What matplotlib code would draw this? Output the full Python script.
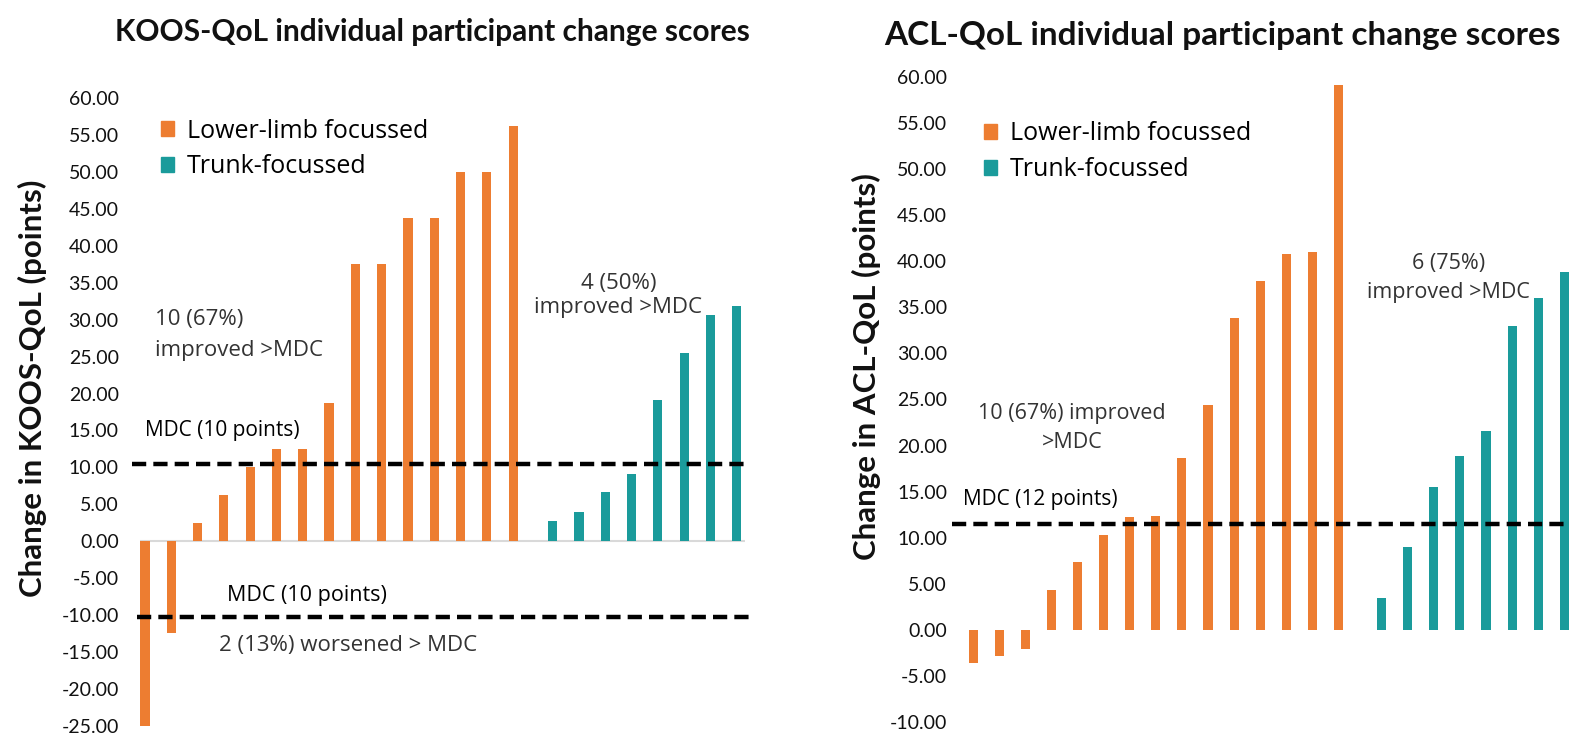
import numpy as np
import matplotlib
matplotlib.use("Agg")
import matplotlib.pyplot as plt
from matplotlib.patches import Patch

# KOOS-QoL change scores (points)
koos_lower = [-25.0, -12.5, 2.5, 6.25, 10.0, 12.5, 12.5, 18.75, 37.5, 37.5,
              43.75, 43.75, 50.0, 50.0, 56.25]
koos_trunk = [2.7, 3.9, 6.6, 9.1, 19.1, 25.5, 30.6, 31.8]
koos_mdc = 10.4
koos_mdc_neg = -10.3

# ACL-QoL change scores (points)
acl_lower = [-3.6, -2.9, -2.1, 4.3, 7.4, 10.3, 12.2, 12.3, 18.7, 24.4,
             33.8, 37.9, 40.8, 41.0, 59.1]
acl_trunk = [3.4, 9.0, 15.5, 18.9, 21.6, 33.0, 36.0, 38.9]
acl_mdc = 11.5

koos_ticks = np.arange(-25, 61, 5)
acl_ticks = np.arange(-10, 61, 5)

ORANGE = "#ED7D31"
TEAL = "#1A9B9B"
TEXT_GREY = "#333333"
W, H = 1570, 738

fig = plt.figure(figsize=(W / 100, H / 100), dpi=100)


def px_axes(left, top, right, bottom):
    return fig.add_axes([left / W, 1 - bottom / H, (right - left) / W, (bottom - top) / H])


def draw_bars(ax, lower, trunk, gap=15.6):
    x_low = np.arange(len(lower))
    x_trunk = gap + np.arange(len(trunk))
    ax.bar(x_low, lower, width=0.35, color=ORANGE, zorder=3)
    ax.bar(x_trunk, trunk, width=0.35, color=TEAL, zorder=3)
    for s in ax.spines.values():
        s.set_visible(False)
    ax.set_xticks([])
    ax.tick_params(axis="y", length=0, pad=0)
    ax.set_xlim(-1, 23.5)


handles = [Patch(color=ORANGE, label="Lower-limb focussed"),
           Patch(color=TEAL, label="Trunk-focussed")]
legend_kw = dict(loc="upper left", bbox_transform=fig.transFigure, frameon=False,
                 handlelength=0.55, handleheight=0.55, handletextpad=0.5,
                 labelspacing=0.42, prop={"family": "Open Sans", "size": 18})

# ---- left: KOOS-QoL
ax1 = px_axes(118.7, 91, 763, 733)
draw_bars(ax1, koos_lower, koos_trunk, gap=15.5)
ax1.set_ylim(-26, 61)
ax1.set_yticks(koos_ticks)
ax1.set_yticklabels([f"{v:.2f}" for v in koos_ticks], fontsize=14, family="Lato", color="#111111")
ax1.hlines(0, -0.2, 22.8, color="#D9D9D9", lw=1.5, zorder=2)
ax1.hlines(koos_mdc, -0.5, 22.9, color="black", lw=3.2, ls=(0, (3.2, 1.6)), zorder=4)
ax1.hlines(koos_mdc_neg, -0.3, 23.1, color="black", lw=3.2, ls=(0, (3.2, 1.6)), zorder=4)

ax1.text(0.38, 27.9, "10 (67%)\nimproved >MDC", fontsize=16, family="Open Sans",
         color=TEXT_GREY, va="center", ha="left", linespacing=1.6)
ax1.text(0.0, 15.0, "MDC (10 points)", fontsize=15, family="Open Sans", color="black",
         va="center", ha="left")
ax1.text(3.1, -7.3, "MDC (10 points)", fontsize=15.5, family="Open Sans", color="black",
         va="center", ha="left")
ax1.text(2.8, -14.1, "2 (13%) worsened > MDC", fontsize=16, family="Open Sans",
         color=TEXT_GREY, va="center", ha="left")
ax1.text(18.0, 33.3, "4 (50%)\nimproved >MDC", fontsize=16, family="Open Sans",
         color=TEXT_GREY, va="center", ha="center", linespacing=1.2)

ax1.legend(handles=handles, bbox_to_anchor=(138 / W, 1 - 96 / H), **legend_kw)

fig.text(432 / W, 1 - 32 / H, "KOOS-QoL individual participant change scores",
         ha="center", va="center", fontsize=21.5, family="Lato", weight="bold", color="#111111")
fig.text(32 / W, 1 - 388 / H, "Change in KOOS-QoL (points)", rotation=90,
         ha="center", va="center", fontsize=22.5, family="Lato", weight="bold", color="#111111")

# ---- right: ACL-QoL
ax2 = px_axes(947, 68, 1586.5, 731)
draw_bars(ax2, acl_lower, acl_trunk, gap=15.65)
ax2.set_ylim(-11, 61)
ax2.set_yticks(acl_ticks)
ax2.set_yticklabels([f"{v:.2f}" for v in acl_ticks], fontsize=14, family="Lato", color="#111111")
ax2.hlines(acl_mdc, -0.8, 24, color="black", lw=3.2, ls=(0, (3.2, 1.6)), zorder=4)

ax2.text(3.8, 21.9, "10 (67%) improved\n>MDC", fontsize=15.5, family="Open Sans",
         color=TEXT_GREY, va="center", ha="center", linespacing=1.55)
ax2.text(-0.38, 14.1, "MDC (12 points)", fontsize=15, family="Open Sans", color="black",
         va="center", ha="left")
ax2.text(18.2, 38.2, "6 (75%)\nimproved >MDC", fontsize=15.5, family="Open Sans",
         color=TEXT_GREY, va="center", ha="center", linespacing=1.45)

ax2.legend(handles=handles, bbox_to_anchor=(961 / W, 1 - 99 / H), **legend_kw)

fig.text(1222 / W, 1 - 35 / H, "ACL-QoL individual participant change scores",
         ha="center", va="center", fontsize=24, family="Lato", weight="bold", color="#111111")
fig.text(866 / W, 1 - 367 / H, "Change in ACL-QoL (points)", rotation=90,
         ha="center", va="center", fontsize=22.5, family="Lato", weight="bold", color="#111111")

fig.savefig("out.png", dpi=100, facecolor="white")
